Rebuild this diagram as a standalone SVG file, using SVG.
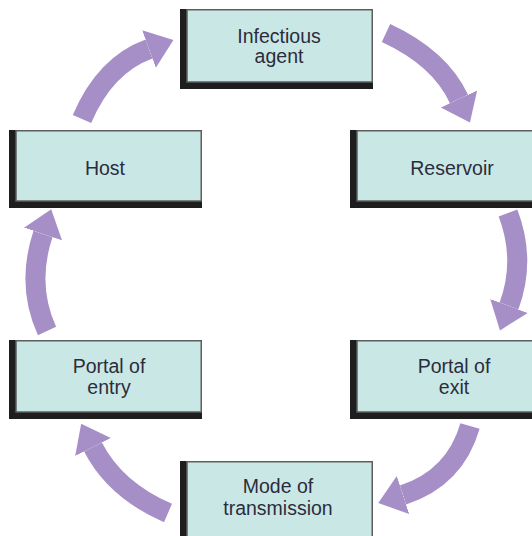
<svg xmlns="http://www.w3.org/2000/svg" width="532" height="536" viewBox="0 0 532 536">
  <style>
    .shadow { fill: #1e1e1e; }
    .face { fill: #c9e8e5; stroke: #5e5e5e; stroke-width: 1.5; }
    .lbl { font-family: "Liberation Sans", Arial, sans-serif; font-size: 19.5px; fill: #2c2c3e; text-anchor: middle; }
    .arr { fill: none; stroke: #a68fc6; stroke-width: 20; stroke-linecap: butt; marker-end: url(#head); }
  </style>
  <defs>
    <marker id="head" markerUnits="userSpaceOnUse" markerWidth="30" markerHeight="44" refX="0" refY="22" orient="auto" viewBox="0 0 30 44">
      <path d="M0,2 L26,22 L0,42 Z" fill="#a68fc6"/>
    </marker>
  </defs>
  <rect width="532" height="536" fill="#ffffff"/>

  <g id="connectors">
    <path class="arr" d="M386,33 Q440,58 459,99"/>
    <path class="arr" d="M508,213 Q526,260 509,306"/>
    <path class="arr" d="M470,426 Q455,478 403,495"/>
    <path class="arr" d="M168,513 Q115,490 93,447"/>
    <path class="arr" d="M47,331 Q26,285 43,234"/>
    <path class="arr" d="M82,119 Q105,65 149,49"/>
  </g>

  <g id="infectious-agent">
    <rect class="shadow" x="180" y="9" width="193" height="80"/>
    <rect class="face" x="187" y="9.75" width="185.25" height="72.25"/>
    <text class="lbl" x="279" y="43">Infectious</text>
    <text class="lbl" x="279" y="63">agent</text>
  </g>

  <g id="reservoir">
    <rect class="shadow" x="350" y="130" width="200" height="78"/>
    <rect class="face" x="357" y="130.75" width="193" height="70.25"/>
    <text class="lbl" x="452" y="175">Reservoir</text>
  </g>

  <g id="portal-of-exit">
    <rect class="shadow" x="350" y="340" width="200" height="79"/>
    <rect class="face" x="357" y="340.75" width="193" height="71.25"/>
    <text class="lbl" x="454" y="373">Portal of</text>
    <text class="lbl" x="454" y="394">exit</text>
  </g>

  <g id="mode-of-transmission">
    <rect class="shadow" x="180" y="461" width="193" height="85"/>
    <rect class="face" x="187" y="461.75" width="185.25" height="80"/>
    <text class="lbl" x="278" y="493">Mode of</text>
    <text class="lbl" x="278" y="515">transmission</text>
  </g>

  <g id="portal-of-entry">
    <rect class="shadow" x="9" y="340" width="193" height="79"/>
    <rect class="face" x="16" y="340.75" width="185.25" height="71.25"/>
    <text class="lbl" x="109" y="373">Portal of</text>
    <text class="lbl" x="109" y="394">entry</text>
  </g>

  <g id="host">
    <rect class="shadow" x="9" y="130" width="193" height="78"/>
    <rect class="face" x="16" y="130.75" width="185.25" height="70.25"/>
    <text class="lbl" x="105" y="175">Host</text>
  </g>
</svg>
